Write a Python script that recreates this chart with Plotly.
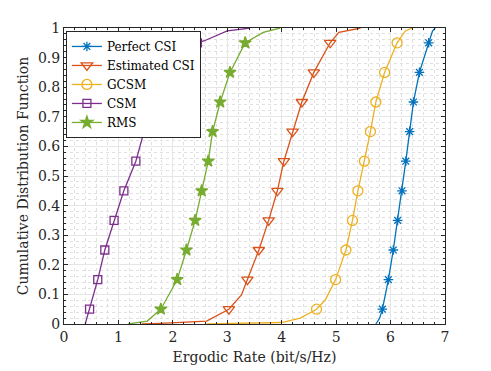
import plotly.graph_objects as go

# curve points (x = ergodic rate, y = CDF)
perfect_x = [5.73, 5.80, 5.85, 5.96, 6.05, 6.13, 6.21, 6.28, 6.35, 6.42, 6.53, 6.70, 6.77, 6.82]
perfect_y = [0, 0.02, 0.05, 0.15, 0.25, 0.35, 0.45, 0.55, 0.65, 0.75, 0.85, 0.95, 0.99, 1.0]

estimated_x = [1.43, 1.76, 2.62, 3.03, 3.26, 3.37, 3.58, 3.76, 3.92, 4.04, 4.20, 4.37, 4.59, 4.89, 5.05, 5.45]
estimated_y = [0, 0.002, 0.01, 0.05, 0.098, 0.15, 0.25, 0.35, 0.45, 0.55, 0.65, 0.75, 0.85, 0.95, 0.985, 1.0]

gcsm_x = [2.62, 3.60, 4.00, 4.34, 4.64, 4.80, 4.99, 5.18, 5.30, 5.40, 5.52, 5.63, 5.73, 5.89, 6.12, 6.27, 6.40]
gcsm_y = [0, 0.002, 0.005, 0.02, 0.05, 0.081, 0.15, 0.25, 0.35, 0.45, 0.55, 0.65, 0.75, 0.85, 0.95, 0.99, 1.0]

csm_x = [0.39, 0.47, 0.62, 0.75, 0.92, 1.10, 1.32, 1.47, 1.68, 1.98, 2.45, 2.58, 3.00, 3.42]
csm_y = [0, 0.05, 0.15, 0.25, 0.35, 0.45, 0.55, 0.65, 0.75, 0.85, 0.95, 0.957, 0.99, 1.0]

rms_x = [1.18, 1.53, 1.78, 2.08, 2.25, 2.41, 2.53, 2.65, 2.73, 2.87, 3.05, 3.33, 3.66, 3.97]
rms_y = [0, 0.01, 0.05, 0.15, 0.25, 0.35, 0.45, 0.55, 0.65, 0.75, 0.85, 0.95, 0.985, 1.0]

marker_levels = [0.05, 0.15, 0.25, 0.35, 0.45, 0.55, 0.65, 0.75, 0.85, 0.95]

series = [
    ('Perfect CSI', perfect_x, perfect_y, '#0072BD', 'asterisk-open', 8),
    ('Estimated CSI', estimated_x, estimated_y, '#D95319', 'triangle-down-open', 10),
    ('GCSM', gcsm_x, gcsm_y, '#EDB120', 'circle-open', 10),
    ('CSM', csm_x, csm_y, '#7E2F8E', 'square-open', 8),
    ('RMS', rms_x, rms_y, '#77AC30', 'star', 9),
]

SERIF = 'DejaVu Serif, Liberation Serif, serif'

fig = go.Figure()
for name, xs, ys, color, symbol, size in series:
    # the curve itself
    fig.add_trace(go.Scatter(x=xs, y=ys, mode='lines', line=dict(color=color, width=1.3),
                             showlegend=False, hoverinfo='skip'))
    # markers only at the 0.05 levels
    mx = [x for x, y in zip(xs, ys) if y in marker_levels]
    my = [y for y in ys if y in marker_levels]
    fig.add_trace(go.Scatter(x=mx, y=my, mode='markers', showlegend=False,
                             marker=dict(symbol=symbol, size=size, color=color,
                                         line=dict(color=color, width=1.3))))
    # legend entry
    fig.add_trace(go.Scatter(x=[None], y=[None], mode='lines+markers', name=name,
                             line=dict(color=color, width=1.3),
                             marker=dict(symbol=symbol, size=size, color=color,
                                         line=dict(color=color, width=1.3))))

axis_common = dict(
    showline=True, linecolor='#262626', linewidth=1, mirror='ticks',
    ticks='inside', ticklen=4, tickcolor='#262626', automargin=False,
    showgrid=True, gridcolor='#e6e6e6', gridwidth=1, zeroline=False,
    tickfont=dict(family=SERIF, size=14, color='#262626'),
    title_font=dict(family=SERIF, size=14, color='#262626'),
)

fig.update_xaxes(range=[0, 7], dtick=1, title_text='Ergodic Rate (bit/s/Hz)', title_standoff=8,
                 minor=dict(dtick=0.2, showgrid=True, gridcolor='#e0e0e0', griddash='dot',
                            ticks='inside', ticklen=2, tickcolor='#262626'),
                 **axis_common)
fig.update_yaxes(range=[0, 1], dtick=0.1, title_text='Cumulative Distribution Function', title_standoff=6,
                 minor=dict(dtick=0.02, showgrid=True, gridcolor='#e0e0e0', griddash='dot',
                            ticks='inside', ticklen=2, tickcolor='#262626'),
                 **axis_common)

# page has an 8px body margin, so the figure is drawn 8px in from the window edges
fig.update_layout(
    width=483, height=363,
    margin=dict(l=56, r=46, t=20, b=47),
    paper_bgcolor='white', plot_bgcolor='white',
    font=dict(family=SERIF, color='#262626'),
    legend=dict(x=0.005, y=0.99, xanchor='left', yanchor='top',
                bgcolor='white', bordercolor='#262626', borderwidth=1,
                font=dict(family=SERIF, size=12, color='black'),
                tracegroupgap=0),
)

fig.write_html('out.html')
